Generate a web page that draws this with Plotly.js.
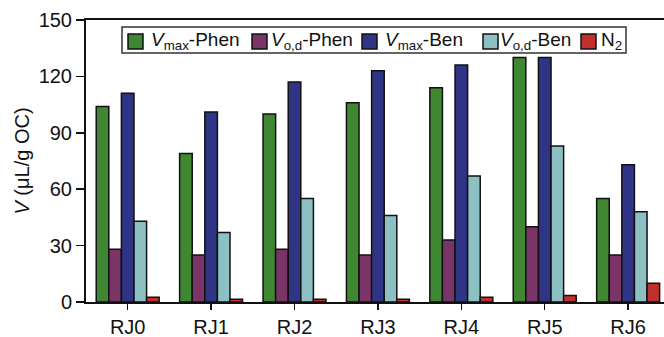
<!DOCTYPE html>
<html><head><meta charset="utf-8">
<script src="https://cdn.plot.ly/plotly-3.0.1.min.js"></script>
<style>body{margin:0;padding:0;background:#fff}#chart{width:664px;height:337px}</style>
</head><body><div id="chart"></div>
<script>
const categories = ["RJ0","RJ1","RJ2","RJ3","RJ4","RJ5","RJ6"];
const vmaxPhen = [104, 79, 100, 106, 114, 130, 55];
const vodPhen  = [28, 25, 28, 25, 33, 40, 25];
const vmaxBen  = [111, 101, 117, 123, 126, 130, 73];
const vodBen   = [43, 37, 55, 46, 67, 83, 48];
const n2       = [2.5, 1.5, 1.5, 1.5, 2.5, 3.5, 10];
const seriesNames = ["<i>V</i><sub>max</sub>-Phen","<i>V</i><sub>o,d</sub>-Phen","<i>V</i><sub>max</sub>-Ben","<i>V</i><sub>o,d</sub>-Ben","N<sub>2</sub>"];
const yTickVals = [0, 30, 60, 90, 120, 150];
const colors = ["#3f8730","#7a3468","#2f3584","#8cc0c2","#c0302d"];
const allSeries = [vmaxPhen, vodPhen, vmaxBen, vodBen, n2];

// layout geometry (pixels)
const M = {l: 86, r: 0, t: 20, b: 35};
const W = 664, H = 337;
const PW = W - M.l - M.r, PH = H - M.t - M.b;
const px = x => (x - M.l) / PW;
const py = y => (H - M.b - y) / PH;
const legendBox = {x0: 122, x1: 626, y0: 27, y1: 53};
const legendSymX = [128, 252, 362, 483, 581];
const legendTextX = [149, 269, 383, 498, 599];
const symSize = 15, symTop = 34;

const traces = allSeries.map((vals, i) => ({
  type: "bar", x: categories, y: vals, name: seriesNames[i],
  marker: {color: colors[i], line: {color: "#111", width: 1.5}}
}));

const font = {family: "Liberation Sans, Arial, sans-serif", size: 20, color: "#111"};
const shapes = [{type: "rect", xref: "paper", yref: "paper",
  x0: px(legendBox.x0), x1: px(legendBox.x1), y0: py(legendBox.y1), y1: py(legendBox.y0),
  line: {color: "#333", width: 1.5}, fillcolor: "#fff", layer: "above"},
  {type: "line", xref: "paper", yref: "paper", x0: px(80), x1: px(86), y0: 0, y1: 0,
  line: {color: "#111", width: 2}}];
const annotations = [];
seriesNames.forEach((nm, i) => {
  shapes.push({type: "rect", xref: "paper", yref: "paper",
    x0: px(legendSymX[i]), x1: px(legendSymX[i] + symSize),
    y0: py(symTop + symSize), y1: py(symTop),
    line: {color: "#111", width: 1.5}, fillcolor: colors[i], layer: "above"});
  annotations.push({xref: "paper", yref: "paper", x: px(legendTextX[i]), y: py(41),
    xanchor: "left", yanchor: "middle", showarrow: false, text: nm,
    font: {family: font.family, size: 19, color: "#111"}});
});

const layout = {
  width: W, height: H, margin: M,
  paper_bgcolor: "#fff", plot_bgcolor: "#fff",
  font: font,
  barmode: "group", bargap: 0.245, bargroupgap: 0,
  showlegend: false,
  shapes: shapes, annotations: annotations,
  xaxis: {range: [-0.5, 6.43], showline: true, linecolor: "#111", linewidth: 2,
    mirror: true, ticks: "outside", ticklen: 6, tickcolor: "#111", tickwidth: 1.5,
    showgrid: false, zeroline: false, tickfont: font},
  yaxis: {range: [0, 150], tickvals: yTickVals, showline: true,
    linecolor: "#111", linewidth: 2, ticks: "outside", ticklen: 8, tickcolor: "#111",
    tickwidth: 1.5, showgrid: false, zeroline: false, tickfont: font,
    title: {text: "\u00A0\u00A0\u00A0\u00A0\u00A0\u00A0\u00A0\u00A0\u00A0\u00A0\u00A0\u00A0<i>V</i> (μL/g OC)", font: font, standoff: 4}}
};
Plotly.newPlot("chart", traces, layout, {staticPlot: true, displayModeBar: false});
</script></body></html>
